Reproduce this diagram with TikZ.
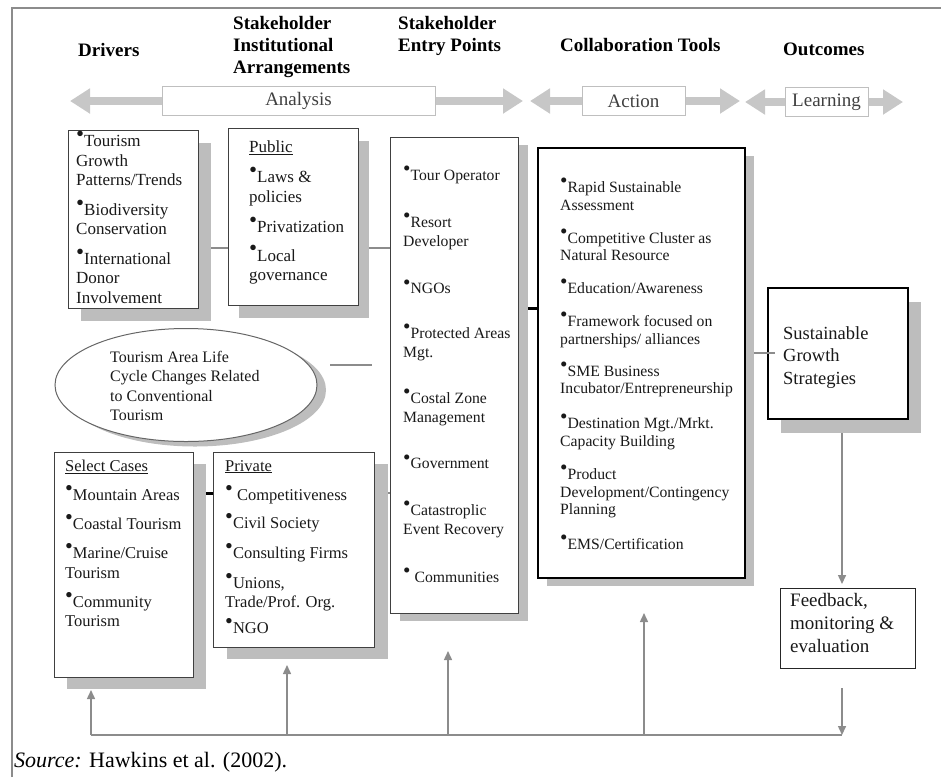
\documentclass[tikz,border=0pt]{standalone}
\usepackage{fontspec}
\usepackage{graphicx}
\setmainfont{Liberation Serif}
\usetikzlibrary{arrows.meta,shadows,shapes.geometric}
\pgfdeclarelayer{bg}
\pgfsetlayers{bg,main}
\newcommand{\bu}{\raisebox{0.3em}{\scalebox{1.35}{\textbullet}}}
\begin{document}
\begin{tikzpicture}[x=1pt,y=-1pt,
  hdr/.style={font=\fontsize{19}{22}\selectfont\bfseries, inner sep=0, align=left, anchor=north west},
  bandbox/.style={draw=black!25, line width=1pt, fill=white, font=\fontsize{19}{22}\selectfont, text=black!75, inner sep=0},
  band/.style={line width=8pt, draw=black!22, -{Triangle[length=20pt,width=24pt]}},
  box/.style={draw=black!75, line width=1.1pt, fill=white, inner sep=0, anchor=north west},
  thickbox/.style={box, draw=black, line width=1.8pt},
  sh/.style 2 args={drop shadow={shadow xshift=#1pt, shadow yshift=-#2pt, fill=black!26, opacity=1}},
  txt/.style={anchor=north west, inner sep=0, align=left, text=black!90},
  conn/.style={draw=black!45, line width=2.5pt},
  thin/.style={draw=black!45, line width=1.5pt},
  blk/.style={draw=black, line width=3pt},
  arr/.style={thin, -{Triangle[length=9pt,width=8pt]}}
]
\useasboundingbox (0,0) rectangle (941,777);
% frame
\coordinate (frBL) at (12,777);
\coordinate (frTL) at (12,8);
\coordinate (frTR) at (941,8);
\draw[black!45, line width=1.5pt] (frBL) -- (frTL) -- (frTR);

% headers
\node[hdr] (hDrv) at (78,43) {Drivers};
\node[hdr] (hSIA) at (233,16) {Stakeholder\\Institutional\\Arrangements};
\node[hdr] (hSEP) at (398,16) {Stakeholder\\Entry Points};
\node[hdr] (hCT) at (560,38) {Collaboration Tools};
\node[hdr] (hOut) at (783,43) {Outcomes};

% band boxes
\node[bandbox, minimum width=273pt, minimum height=29pt] (ana) at (298.5,101) {Analysis};
\node[bandbox, minimum width=103pt, minimum height=29pt] (act) at (633.5,101) {Action};
\node[bandbox, minimum width=83pt, minimum height=29pt] (lrn) at (826.5,102) {Learning};
\coordinate (tA1) at (70,101);
\coordinate (tA2) at (523,101);
\coordinate (tB1) at (530,101);
\coordinate (tB2) at (740,101);
\coordinate (tC1) at (745,102);
\coordinate (tC2) at (903,102);
\begin{pgfonlayer}{bg}
\draw[band] (ana.west) -- (tA1);
\draw[band] (ana.east) -- (tA2);
\draw[band] (act.west) -- (tB1);
\draw[band] (act.east) -- (tB2);
\draw[band] (lrn.west) -- (tC1);
\draw[band] (lrn.east) -- (tC2);
\end{pgfonlayer}

% boxes
\node[box, sh={12}{12}, minimum width=130pt, minimum height=178pt] (drv) at (68,130) {};
\node[box, sh={10}{12}, minimum width=130pt, minimum height=177pt] (pub) at (228,128) {};
\node[box, sh={9}{7}, minimum width=128pt, minimum height=476pt] (ent) at (390,137) {};
\node[thickbox, sh={9}{8}, minimum width=207pt, minimum height=430pt] (col) at (537,147) {};
\node[box, sh={12}{11}, minimum width=139pt, minimum height=225pt] (sel) at (54,452) {};
\node[box, sh={13}{11}, minimum width=161pt, minimum height=195pt] (prv) at (213,452) {};
\node[thickbox, sh={13}{14}, minimum width=140pt, minimum height=131pt] (sgs) at (767,287) {};
\node[box, draw=black!85, line width=1.4pt, minimum width=135pt, minimum height=80pt] (fb) at (780,588) {};
\node[ellipse, draw=black!60, line width=1pt, fill=white, minimum width=262pt, minimum height=113pt,
      drop shadow={shadow xshift=9pt, shadow yshift=-5pt, fill=black!26, opacity=1}] (ell) at (186,385) {};

% texts
\node[txt, font=\fontsize{17}{19.5}\selectfont] (drvT) at (76,131)
 {\bu Tourism\\Growth\\Patterns/Trends\\[10pt]\bu Biodiversity\\Conservation\\[10pt]\bu International\\Donor\\Involvement};
\node[txt, font=\fontsize{17}{19.5}\selectfont] (pubT) at (249,140.5)
 {\underline{Public}\\[10.5pt]\bu Laws \&\\policies\\[11pt]\bu Privatization\\[9pt]\bu Local\\governance};
\node[txt, font=\fontsize{15.7}{18.8}\selectfont] (entT) at (403,166)
 {\bu Tour Operator\\[28pt]\bu Resort\\Developer\\[29pt]\bu NGOs\\[26pt]\bu Protected Areas\\Mgt.\\[27pt]\bu Costal Zone\\Management\\[28pt]\bu Government\\[28pt]\bu Catastroplic\\Event Recovery\\[29pt]\bu\ Communities};
\node[txt, font=\fontsize{15.7}{17.8}\selectfont] (colT) at (560,178)
 {\bu Rapid Sustainable\\Assessment\\[15pt]\bu Competitive Cluster as\\Natural Resource\\[15pt]\bu Education/Awareness\\[15pt]\bu Framework focused on\\partnerships/ alliances\\[14pt]\bu SME Business\\Incubator/Entrepreneurship\\[17pt]\bu Destination Mgt./Mrkt.\\Capacity Building\\[15pt]\bu Product\\Development/Contingency\\Planning\\[17pt]\bu EMS/Certification};
\node[txt, font=\fontsize{16.5}{19.5}\selectfont] (selT) at (65,460)
 {\underline{Select Cases}\\[9.5pt]\bu Mountain Areas\\[9.5pt]\bu Coastal Tourism\\[9.5pt]\bu Marine/Cruise\\Tourism\\[9.5pt]\bu Community\\Tourism};
\node[txt, font=\fontsize{16.5}{19.5}\selectfont] (prvT) at (225,460)
 {\underline{Private}\\[9.5pt]\bu\ Competitiveness\\[8.5pt]\bu Civil Society\\[10.5pt]\bu Consulting Firms\\[10.5pt]\bu Unions,\\Trade/Prof. Org.\\[6.5pt]\bu NGO};
\node[txt, font=\fontsize{16}{19.3}\selectfont] (ellT) at (110,351)
 {Tourism Area Life\\Cycle Changes Related\\to Conventional\\Tourism};
\node[txt, font=\fontsize{18.5}{22.5}\selectfont] (sgsT) at (783,326)
 {Sustainable\\Growth\\Strategies};
\node[txt, font=\fontsize{19}{23}\selectfont] (fbT) at (790,593)
 {Feedback,\\monitoring \&\\evaluation};

% connectors
\coordinate (yA) at (0,248);
\coordinate (yB) at (0,493);
\coordinate (yC) at (0,308);
\coordinate (yD) at (0,353);
\coordinate (ellA) at (330,365);
\coordinate (ellB) at (372,365);
\coordinate (sgsIn) at (775,353);
\begin{pgfonlayer}{bg}
\draw[conn] (drv.east |- yA) -- (pub.west |- yA);
\draw[conn] (pub.east |- yA) -- (ent.west |- yA);
\draw[blk] (sel.east |- yB) -- (prv.west |- yB);
\draw[conn] (prv.east |- yB) -- (ent.west |- yB);
\draw[blk] (ent.east |- yC) -- (col.west |- yC);
\draw[conn] (col.east |- yD) -- (sgs.west |- yD);
\end{pgfonlayer}
\draw[conn] (sgs.west |- yD) -- (sgsIn);
\draw[conn] (ellA) -- (ellB);

% feedback loop
\coordinate (fA) at (842,433);
\coordinate (fB) at (842,584);
\coordinate (fC) at (842,688);
\coordinate (lpL) at (91,735);
\coordinate (lpR) at (842,735);
\coordinate (u2) at (287,735);
\coordinate (u3) at (448,735);
\coordinate (u4) at (644,735);
\coordinate (t1) at (91,690);
\coordinate (t2) at (287,665);
\coordinate (t3) at (448,651);
\coordinate (t4) at (644,613);
\draw[arr] (fA) -- (fB);
\draw[arr] (fC) -- (lpR);
\draw[thin] (lpL) -- (lpR);
\draw[arr] (lpL) -- (t1);
\draw[arr] (u2) -- (t2);
\draw[arr] (u3) -- (t3);
\draw[arr] (u4) -- (t4);

% source
\node[anchor=base west, inner sep=0, font=\fontsize{22}{26}\selectfont] (src) at (14,767)
 {\textit{Source:} Hawkins et al. (2002).};
\end{tikzpicture}
\end{document}
